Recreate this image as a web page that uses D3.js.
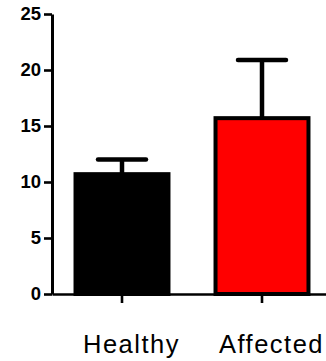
<!DOCTYPE html>
<html>
<head>
<meta charset="utf-8">
<script src="https://cdn.jsdelivr.net/npm/d3@7"></script>
<style>
  html, body { margin: 0; padding: 0; background: #fff; }
  svg { display: block; }
</style>
</head>
<body>
<svg id="chart" width="326" height="361"></svg>
<script>
// Group means with upper error limits
const groups = ["Healthy", "Affected"];
const means = [10.7, 15.7];
const upperErrors = [12.0, 20.9];
const barColors = ["#000000", "#ff0000"];
const yTicks = [0, 5, 10, 15, 20, 25];

const svg = d3.select("#chart");

const y = d3.scaleLinear().domain([0, 25]).range([294, 14]);
const x = d3.scaleBand()
  .domain(groups)
  .range([52, 332])
  .paddingInner(0.336)
  .paddingOuter(0.168);

// Bars
svg.append("g")
  .selectAll("rect")
  .data(groups)
  .join("rect")
  .attr("x", d => x(d))
  .attr("y", (d, i) => y(means[i]))
  .attr("width", x.bandwidth())
  .attr("height", (d, i) => y(0) - y(means[i]))
  .attr("fill", (d, i) => barColors[i])
  .attr("stroke", "#000")
  .attr("stroke-width", 4);

// Error bars (upper only)
const capHalf = 24;
const err = svg.append("g")
  .attr("stroke", "#000")
  .attr("stroke-width", 4.5)
  .attr("fill", "none");
groups.forEach((g, i) => {
  const cx = x(g) + x.bandwidth() / 2;
  err.append("line")
    .attr("x1", cx).attr("x2", cx)
    .attr("y1", y(means[i])).attr("y2", y(upperErrors[i]));
  err.append("line")
    .attr("x1", cx - capHalf).attr("x2", cx + capHalf)
    .attr("y1", y(upperErrors[i])).attr("y2", y(upperErrors[i]))
    .attr("stroke-linecap", "round");
});

// Y axis
const yAxis = svg.append("g")
  .attr("transform", "translate(52,0)")
  .call(d3.axisLeft(y).tickValues(yTicks).tickSize(8).tickSizeOuter(0).tickPadding(3));
yAxis.select(".domain").attr("stroke", "#000").attr("stroke-width", 3);
yAxis.selectAll(".tick line").attr("stroke", "#000").attr("stroke-width", 2.6);
yAxis.selectAll(".tick text")
  .attr("fill", "#000")
  .style("font-family", "'Liberation Sans', Arial, sans-serif")
  .style("font-size", "18.5px")
  .style("font-weight", "bold");

// X axis
const xAxis = svg.append("g")
  .attr("transform", "translate(0,294)")
  .call(d3.axisBottom(x).tickSize(9).tickSizeOuter(0));
xAxis.select(".domain").attr("stroke", "#000").attr("stroke-width", 2.5);
xAxis.selectAll(".tick line").attr("stroke", "#000").attr("stroke-width", 2.6);
xAxis.selectAll(".tick text")
  .attr("fill", "#000")
  .attr("x", 9.5)
  .attr("y", 58.7)
  .attr("dy", null)
  .style("font-family", "'Liberation Sans', Arial, sans-serif")
  .style("font-size", "25.5px")
  .style("letter-spacing", "1.5px");
</script>
</body>
</html>
